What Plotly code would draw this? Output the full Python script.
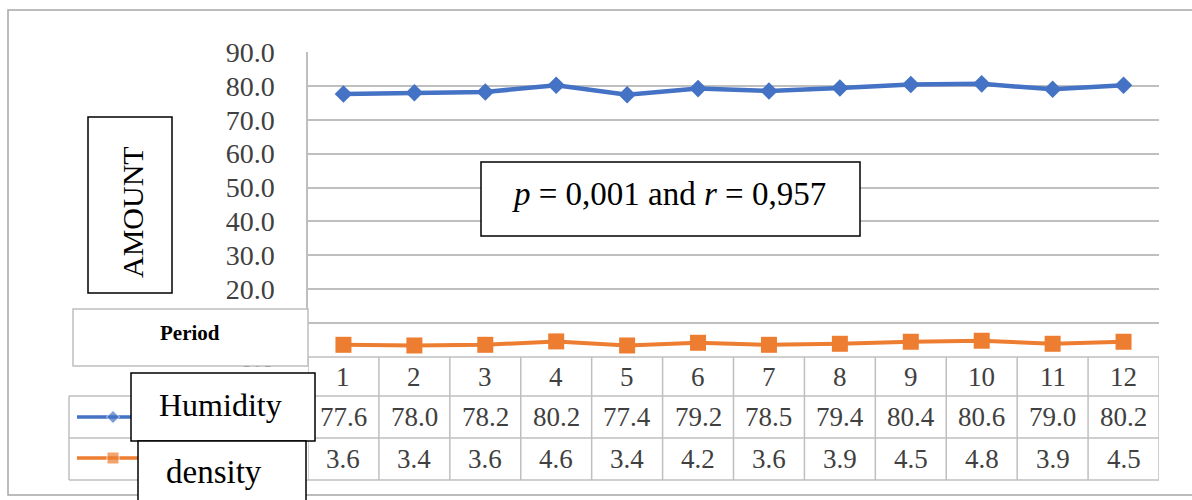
import plotly.graph_objects as go

# ---- data -------------------------------------------------------------
periods = [1, 2, 3, 4, 5, 6, 7, 8, 9, 10, 11, 12]
humidity = [77.6, 78.0, 78.2, 80.2, 77.4, 79.2, 78.5, 79.4, 80.4, 80.6, 79.0, 80.2]
density = [3.6, 3.4, 3.6, 4.6, 3.4, 4.2, 3.6, 3.9, 4.5, 4.8, 3.9, 4.5]
series_names = ["Humidity", "density"]
y_ticks = [0, 10, 20, 30, 40, 50, 60, 70, 80, 90]
stat_text = "<i>p</i> = 0,001 and <i>r</i> = 0,957"

# ---- page geometry (pixels) -------------------------------------------
W, H = 1192, 500
SERIF = "Liberation Serif"
BLUE = "#4472C4"
ORANGE = "#ED7D31"
GRID = "#bfbfbf"
TEXT = "#404040"

plot_left, plot_right = 308, 1159
plot_top, plot_zero = 52, 357
row_lines = [357, 396, 438, 480]      # data-table row borders
legend_left = 69


def px(x):
    return x / W


def py(y):
    return 1 - y / H


fig = go.Figure()

# main series on the value axes
fig.add_trace(go.Scatter(
    x=periods, y=humidity, mode="lines+markers", name=series_names[0],
    line=dict(color=BLUE, width=4.5),
    marker=dict(symbol="diamond", size=13.5, color=BLUE),
    showlegend=False, hoverinfo="skip"))
fig.add_trace(go.Scatter(
    x=periods, y=density, mode="lines+markers", name=series_names[1],
    line=dict(color=ORANGE, width=4),
    marker=dict(symbol="square", size=16, color=ORANGE),
    showlegend=False, hoverinfo="skip"))

# legend keys inside the data table (full-page pixel axes)
key_rows = [(417, BLUE, "diamond", 10, 3.5), (458, ORANGE, "square", 12, 3.5)]
for yk, col, sym, msz, lw in key_rows:
    fig.add_trace(go.Scatter(
        x=[77, 113, 150], y=[yk, yk, yk], xaxis="x2", yaxis="y2",
        mode="lines+markers", line=dict(color=col, width=lw),
        marker=dict(symbol=sym, size=[0, msz, 0], color=col),
        showlegend=False, hoverinfo="skip"))

shapes = []
annotations = []

# outer chart border
shapes.append(dict(type="rect", xref="paper", yref="paper",
                   x0=px(8), x1=px(1205), y0=py(10), y1=py(495),
                   line=dict(color="#a6a6a6", width=1.5), layer="below"))

# data table: horizontal borders over the category columns
for yl in row_lines:
    shapes.append(dict(type="line", xref="x", yref="paper",
                       x0=periods[0] - 0.5, x1=periods[-1] + 0.5,
                       y0=py(yl), y1=py(yl),
                       line=dict(color=GRID, width=1.5)))
# vertical borders between categories
for k in range(len(periods) + 1):
    xv = periods[0] - 0.5 + k
    shapes.append(dict(type="line", xref="x", yref="paper",
                       x0=xv, x1=xv, y0=py(row_lines[0]), y1=py(row_lines[-1]),
                       line=dict(color=GRID, width=1.5)))
# legend cells of the table
for yl in row_lines[1:]:
    shapes.append(dict(type="line", xref="paper", yref="paper",
                       x0=px(legend_left), x1=px(plot_left),
                       y0=py(yl), y1=py(yl),
                       line=dict(color=GRID, width=1.5)))
shapes.append(dict(type="line", xref="paper", yref="paper",
                   x0=px(legend_left), x1=px(legend_left),
                   y0=py(row_lines[1]), y1=py(row_lines[-1]),
                   line=dict(color=GRID, width=1.5)))

# table cell texts
header_y = (row_lines[0] + row_lines[1]) / 2
hum_y = (row_lines[1] + row_lines[2]) / 2
den_y = (row_lines[2] + row_lines[3]) / 2
for p, h, d in zip(periods, humidity, density):
    for txt, yy in ((str(p), header_y), (f"{h:.1f}", hum_y), (f"{d:.1f}", den_y)):
        annotations.append(dict(
            x=p, y=py(yy), xref="x", yref="paper", text=txt, showarrow=False,
            font=dict(family=SERIF, size=27, color=TEXT),
            xanchor="center", yanchor="middle"))

# boxed labels


def box(x0, y0, x1, y1, color="#000000", width=1.5):
    shapes.append(dict(type="rect", xref="paper", yref="paper",
                       x0=px(x0), x1=px(x1), y0=py(y0), y1=py(y1),
                       fillcolor="white", line=dict(color=color, width=width),
                       layer="above"))


def label(x, y, text, size, bold=False, angle=0, color="#000000"):
    annotations.append(dict(
        x=px(x), y=py(y), xref="paper", yref="paper", text=text,
        showarrow=False, textangle=angle,
        font=dict(family=SERIF, size=size, color=color,
                  weight="bold" if bold else "normal"),
        xanchor="center", yanchor="middle"))


box(88, 117, 172, 293)
label(133, 212, "AMOUNT", 30, angle=-90)

box(73, 309, 308, 366, color=GRID)
label(190, 333, "Period", 21, bold=True)

box(481, 162, 860, 236)
label(669, 194, stat_text, 33)

box(131, 373, 315, 441)
label(220, 405, series_names[0], 32)

box(138, 441, 306, 520)
label(214, 472, series_names[1], 33)

fig.update_layout(
    template="none",
    width=W, height=H,
    margin=dict(l=0, r=0, t=0, b=0, pad=0, autoexpand=False),
    paper_bgcolor="white", plot_bgcolor="rgba(0,0,0,0)",
    xaxis=dict(domain=[px(plot_left), px(plot_right)],
               range=[periods[0] - 0.5, periods[-1] + 0.5],
               showgrid=False, zeroline=False, showline=False,
               showticklabels=False, ticks="", fixedrange=True,
               automargin=False),
    yaxis=dict(domain=[py(plot_zero), py(plot_top)],
               range=[y_ticks[0], y_ticks[-1]],
               tickvals=y_ticks, ticktext=[f"{v:.1f}" for v in y_ticks],
               showgrid=True, gridcolor=GRID, gridwidth=1.5,
               zeroline=False, showline=True, linecolor=GRID, linewidth=1.5,
               ticks="outside", ticklen=26, tickcolor="rgba(0,0,0,0)",
               tickfont=dict(family=SERIF, size=28, color=TEXT),
               fixedrange=True, automargin=False),
    xaxis2=dict(domain=[0, 1], range=[0, W], anchor="y2", visible=False,
                fixedrange=True, automargin=False),
    yaxis2=dict(domain=[0, 1], range=[H, 0], anchor="x2", visible=False,
                fixedrange=True, automargin=False),
    shapes=shapes,
    annotations=annotations,
)

fig.write_html("out.html")
